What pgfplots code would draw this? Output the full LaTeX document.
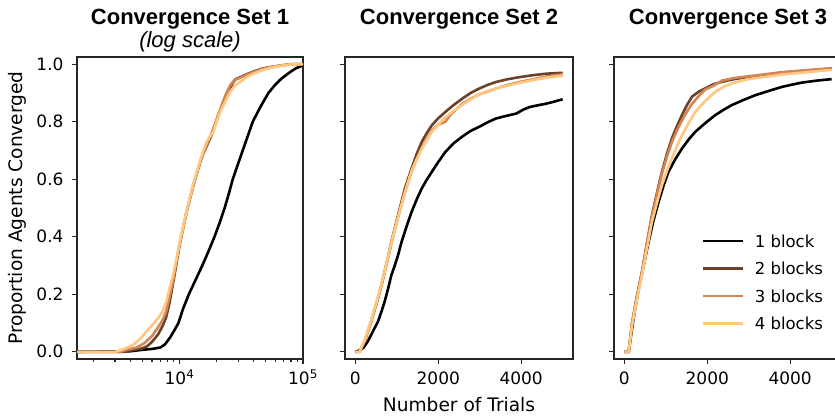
\documentclass[border=0pt]{standalone}
\usepackage{fontspec}
\setmainfont{DejaVu Sans}
\newfontfamily\arialfont{Liberation Sans}
\usepackage{pgfplots}
\pgfplotsset{compat=1.18}

% copper colormap, 4 steps
\definecolor{cA}{RGB}{0,0,0}
\definecolor{cB}{RGB}{106,66,42}
\definecolor{cC}{RGB}{212,133,85}
\definecolor{cD}{RGB}{255,199,127}
\definecolor{axc}{RGB}{38,38,38}

\pgfplotsset{
  panel/.style={
    scale only axis, height=302pt,
    ymin=-0.025, ymax=1.025,
    ytick={0,0.2,0.4,0.6,0.8,1.0},
    axis line style={axc, line width=1.2pt},
    tick style={axc, line width=1.2pt},
    tick align=outside, major tick length=5pt, minor tick length=3pt,
    xtick pos=bottom, ytick pos=left,
    tick label style={font=\fontsize{17}{20}\selectfont, text=black},
    /pgf/number format/assume math mode=true,
    /pgf/number format/1000 sep={},
    yticklabel style={/pgf/number format/fixed, /pgf/number format/fixed zerofill, /pgf/number format/precision=1, xshift=-5pt},
    xticklabel style={anchor=base, yshift=-21pt},
    clip mode=individual,
  },
  s1/.style={cA, line width=2.6pt, line join=round},
  s2/.style={cB, line width=2.6pt, line join=round},
  s3/.style={cC, line width=2.6pt, line join=round},
  s4/.style={cD, line width=2.6pt, line join=round},
  lin/.style={xmin=-250, xmax=5250, xtick={0,2000,4000}, yticklabels={}},
}

\begin{document}
\begin{tikzpicture}
% ---------- panel 1 (log scale) ----------
\begin{axis}[panel, width=226pt, at={(77pt,58pt)}, anchor=south west,
  xmode=log, xmin=1480, xmax=100000,
  xtick={10000,100000}, xticklabels={10\textsuperscript{4},10\textsuperscript{5}},
  minor xtick={2000,3000,4000,5000,6000,7000,8000,9000,20000,30000,40000,50000,60000,70000,80000,90000},
]
\addplot[s1] coordinates {(1400,0) (4000,0.002) (5000,0.007) (6000,0.01) (7000,0.015) (7600,0.025) (8400,0.05) (9100,0.075) (9800,0.1) (10700,0.15) (11900,0.2) (13500,0.25) (15300,0.3) (17200,0.35) (19200,0.4) (21200,0.45) (23200,0.5) (25100,0.55) (27000,0.6) (29600,0.65) (32500,0.7) (35700,0.75) (39200,0.8) (45000,0.85) (52500,0.9) (60000,0.93) (67000,0.95) (78900,0.973) (87000,0.985) (95000,0.992) (100000,0.995)};
\addplot[s2] coordinates {(1400,0) (3500,0) (4200,0.006) (5000,0.012) (5500,0.02) (6000,0.035) (6700,0.06) (7300,0.09) (7800,0.12) (8300,0.17) (8800,0.23) (9400,0.3) (10000,0.37) (10700,0.43) (11400,0.485) (12100,0.53) (12900,0.575) (13700,0.615) (14600,0.655) (15600,0.69) (16800,0.72) (18000,0.75) (19500,0.79) (21000,0.83) (22500,0.86) (24000,0.885) (25500,0.91) (27000,0.935) (28500,0.948) (31000,0.955) (35000,0.965) (40000,0.975) (47000,0.985) (55000,0.99) (65000,0.995) (80000,1.0) (100000,1.0)};
\addplot[s3] coordinates {(1400,0) (3300,0) (3800,0.008) (4500,0.015) (5200,0.03) (6000,0.055) (6700,0.085) (7300,0.11) (7800,0.14) (8300,0.19) (8800,0.24) (9400,0.31) (10000,0.375) (10700,0.43) (11400,0.485) (12100,0.53) (12900,0.578) (13700,0.617) (14600,0.658) (15600,0.693) (16800,0.725) (18000,0.755) (19500,0.795) (21000,0.835) (22500,0.87) (24000,0.9) (26000,0.93) (28000,0.945) (31000,0.953) (35000,0.963) (40000,0.973) (47000,0.984) (55000,0.99) (65000,0.995) (80000,1.0) (100000,1.0)};
\addplot[s4] coordinates {(1400,0) (3000,0) (3300,0.005) (3800,0.015) (4200,0.024) (4800,0.045) (5400,0.07) (6000,0.092) (6710,0.117) (7300,0.14) (7830,0.175) (8300,0.22) (8880,0.267) (9500,0.325) (10060,0.383) (10700,0.435) (11400,0.487) (12100,0.535) (12900,0.58) (13700,0.62) (14600,0.661) (15500,0.695) (16600,0.73) (17700,0.75) (18800,0.765) (20000,0.8) (21300,0.834) (23500,0.87) (25700,0.904) (28000,0.925) (30900,0.938) (35000,0.955) (39700,0.967) (46000,0.978) (54200,0.987) (65000,0.994) (78900,0.999) (100000,1.0)};
\node[anchor=base, yshift=32pt, font=\arialfont\bfseries\fontsize{22}{26}\selectfont] at (rel axis cs:0.5,1) {Convergence Set 1};
\node[anchor=base, yshift=9.5pt, font=\arialfont\itshape\fontsize{22}{26}\selectfont] at (rel axis cs:0.5,1) {(log scale)};
\node[xshift=-60pt, rotate=90, anchor=center, font=\fontsize{18.6}{22}\selectfont] at (rel axis cs:0,0.5) {Proportion Agents Converged};
\end{axis}

% ---------- panel 2 ----------
\begin{axis}[panel, lin, width=228pt, at={(345pt,58pt)}, anchor=south west]
\addplot[s1] coordinates {(0,0) (100,0.005) (200,0.015) (300,0.036) (420,0.07) (545,0.105) (630,0.14) (707,0.175) (790,0.22) (870,0.267) (950,0.3) (1032,0.337) (1110,0.38) (1195,0.418) (1280,0.455) (1358,0.487) (1480,0.53) (1602,0.568) (1720,0.598) (1846,0.626) (2000,0.66) (2171,0.695) (2370,0.725) (2577,0.748) (2780,0.768) (2984,0.782) (3190,0.798) (3390,0.811) (3630,0.82) (3878,0.828) (4050,0.842) (4203,0.851) (4400,0.857) (4610,0.863) (4800,0.87) (5000,0.878)};
\addplot[s2] coordinates {(0,0) (100,0) (220,0.036) (300,0.07) (382,0.105) (460,0.145) (545,0.186) (630,0.232) (707,0.279) (790,0.33) (870,0.383) (950,0.43) (1032,0.476) (1110,0.52) (1195,0.568) (1280,0.605) (1358,0.638) (1480,0.688) (1602,0.73) (1720,0.76) (1846,0.788) (2000,0.812) (2171,0.834) (2370,0.858) (2577,0.88) (2780,0.9) (2984,0.915) (3190,0.928) (3390,0.938) (3650,0.947) (3959,0.955) (4300,0.962) (4610,0.967) (5000,0.97)};
\addplot[s3] coordinates {(0,0) (100,0) (220,0.035) (300,0.07) (382,0.105) (460,0.145) (545,0.185) (630,0.232) (707,0.278) (790,0.328) (870,0.378) (950,0.423) (1032,0.468) (1110,0.51) (1195,0.553) (1280,0.593) (1358,0.628) (1480,0.67) (1602,0.71) (1720,0.74) (1846,0.77) (2000,0.79) (2171,0.8) (2300,0.825) (2450,0.845) (2577,0.862) (2780,0.88) (2984,0.895) (3190,0.905) (3390,0.915) (3650,0.927) (3959,0.938) (4300,0.948) (4610,0.957) (5000,0.965)};
\addplot[s4] coordinates {(0,0) (100,0) (220,0.04) (300,0.075) (382,0.11) (460,0.15) (545,0.19) (630,0.235) (707,0.28) (790,0.33) (870,0.38) (950,0.425) (1032,0.47) (1110,0.51) (1195,0.555) (1280,0.595) (1358,0.63) (1480,0.67) (1602,0.705) (1720,0.735) (1846,0.765) (2000,0.79) (2171,0.815) (2370,0.838) (2577,0.858) (2780,0.878) (2984,0.895) (3190,0.907) (3390,0.915) (3650,0.925) (3959,0.935) (4300,0.945) (4610,0.953) (5000,0.96)};
\node[anchor=base, yshift=32pt, font=\arialfont\bfseries\fontsize{22}{26}\selectfont] at (rel axis cs:0.5,1) {Convergence Set 2};
\node[anchor=base, yshift=-53pt, font=\fontsize{18.6}{22}\selectfont] at (rel axis cs:0.5,0) {Number of Trials};
\end{axis}

% ---------- panel 3 ----------
\begin{axis}[panel, lin, width=228pt, at={(614pt,58pt)}, anchor=south west,
  legend style={draw=none, fill=none, at={(0.3816,0.4106)}, anchor=north west,
    font=\fontsize{16.5}{19}\selectfont, row sep=15.5pt, inner sep=0pt,
    nodes={inner sep=0pt, text height=12pt, text depth=0pt},
    /tikz/every odd column/.append style={column sep=11pt}},
  legend cell align=left,
  legend image code/.code={\draw[#1, line width=2.6pt] (0pt,0pt) -- (40pt,0pt);},
]
\addplot[s1] coordinates {(0,0) (104,0) (185,0.08) (260,0.15) (345,0.219) (465,0.3) (586,0.383) (700,0.455) (827,0.522) (950,0.58) (1068,0.627) (1230,0.67) (1390,0.707) (1550,0.738) (1711,0.765) (1950,0.795) (2193,0.823) (2400,0.842) (2595,0.858) (2880,0.876) (3157,0.892) (3480,0.907) (3800,0.921) (4050,0.929) (4282,0.936) (4650,0.943) (5000,0.948)};
\addplot[s2] coordinates {(0,0) (104,0) (185,0.1) (300,0.19) (426,0.279) (545,0.378) (667,0.476) (790,0.555) (908,0.627) (1030,0.69) (1149,0.743) (1270,0.785) (1390,0.823) (1510,0.858) (1631,0.887) (1800,0.905) (1952,0.916) (2150,0.93) (2354,0.939) (2650,0.948) (2996,0.956) (3400,0.963) (3800,0.971) (4400,0.978) (5000,0.985)};
\addplot[s3] coordinates {(0,0) (104,0) (185,0.1) (300,0.19) (426,0.278) (545,0.375) (667,0.47) (790,0.55) (908,0.62) (1030,0.68) (1149,0.73) (1270,0.77) (1390,0.805) (1510,0.835) (1631,0.862) (1800,0.89) (1952,0.912) (2150,0.925) (2354,0.943) (2650,0.952) (2996,0.958) (3400,0.965) (3800,0.972) (4400,0.979) (5000,0.986)};
\addplot[s4] coordinates {(0,0) (104,0) (185,0.09) (300,0.18) (426,0.268) (545,0.36) (667,0.453) (790,0.52) (908,0.58) (1030,0.63) (1149,0.674) (1270,0.715) (1390,0.753) (1550,0.795) (1711,0.834) (1950,0.872) (2193,0.904) (2400,0.922) (2595,0.933) (2800,0.941) (2996,0.948) (3400,0.956) (3800,0.964) (4400,0.972) (5000,0.98)};
\legend{1 block, 2 blocks, 3 blocks, 4 blocks}
\node[anchor=base, yshift=32pt, font=\arialfont\bfseries\fontsize{22}{26}\selectfont] at (rel axis cs:0.5,1) {Convergence Set 3};
\end{axis}

\pgfresetboundingbox
\useasboundingbox (0pt,0pt) rectangle (835pt,417pt);
\end{tikzpicture}
\end{document}
